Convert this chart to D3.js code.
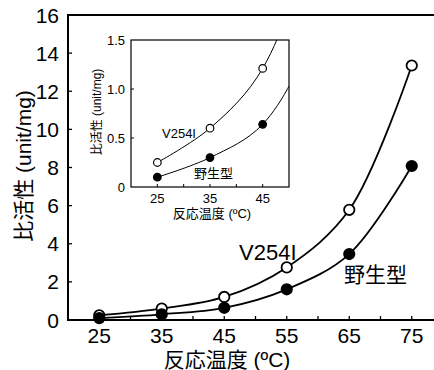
<!DOCTYPE html>
<html>
<head>
<meta charset="utf-8">
<script src="https://cdn.jsdelivr.net/npm/d3@7"></script>
<style>
  body { margin: 0; background: #fff; }
  svg { display: block; font-family: "Liberation Sans", Arial, "Noto Sans CJK JP", sans-serif; }
</style>
</head>
<body>
<svg id="chart" width="434" height="370"></svg>
<script>
// data
const temps = [25, 35, 45, 55, 65, 75];
const mutant = [0.25, 0.6, 1.21, 2.76, 5.78, 13.35];   // V254I (open circles)
const wild = [0.1, 0.3, 0.64, 1.61, 3.46, 8.08];       // 野生型 (filled circles)
const insetTemps = [25, 35, 45];
const mainXTicks = [25, 35, 45, 55, 65, 75];
const mainYTicks = [0, 2, 4, 6, 8, 10, 12, 14, 16];
const insetXTicks = [25, 35, 45];
const insetYTicks = [0, 0.5, 1.0, 1.5];

const svg = d3.select("#chart");

const series = [
    { name: "V254I", values: mutant, fill: "#fff" },
    { name: "野生型", values: wild, fill: "#000" }
];

// ---- main chart ----
const x = d3.scaleLinear().domain([20, 80]).range([68, 443]);
const y = d3.scaleLinear().domain([0, 16]).range([320, 15]);

const line = d3.line()
    .curve(d3.curveCatmullRom.alpha(0.5))
    .x(d => x(d[0]))
    .y(d => y(d[1]));

series.forEach(s => {
    const pts = temps.map((t, i) => [t, s.values[i]]);
    svg.append("path")
        .attr("d", line(pts))
        .attr("fill", "none")
        .attr("stroke", "#000")
        .attr("stroke-width", 1.8);
});

series.forEach(s => {
    svg.selectAll(null)
        .data(temps.map((t, i) => [t, s.values[i]]))
        .join("circle")
        .attr("cx", d => x(d[0]))
        .attr("cy", d => y(d[1]))
        .attr("r", 5.2)
        .attr("fill", s.fill)
        .attr("stroke", "#000")
        .attr("stroke-width", 1.8);
});

// axes frame (left, bottom, top)
svg.append("path")
    .attr("d", `M434,${y(16)}H${x(20)}V${y(0)}H434`)
    .attr("fill", "none")
    .attr("stroke", "#000")
    .attr("stroke-width", 2);

// x ticks every 5, pointing inward
svg.selectAll(null)
    .data(d3.range(25, 80, 5))
    .join("line")
    .attr("x1", d => x(d)).attr("x2", d => x(d))
    .attr("y1", y(0)).attr("y2", y(0) - 4)
    .attr("stroke", "#000").attr("stroke-width", 1.3);

svg.selectAll(null)
    .data(mainYTicks.slice(1, -1))
    .join("line")
    .attr("x1", x(20)).attr("x2", x(20) + 4)
    .attr("y1", d => y(d)).attr("y2", d => y(d))
    .attr("stroke", "#000").attr("stroke-width", 1.3);

svg.selectAll(null)
    .data(mainXTicks)
    .join("text")
    .attr("x", d => x(d))
    .attr("y", 343)
    .attr("text-anchor", "middle")
    .attr("font-size", 21)
    .text(d => d);

svg.selectAll(null)
    .data(mainYTicks)
    .join("text")
    .attr("x", 59)
    .attr("y", d => y(d) + 7.5)
    .attr("text-anchor", "end")
    .attr("font-size", 21)
    .text(d => d);

svg.append("text")
    .attr("transform", "translate(31,166) rotate(-90)")
    .attr("text-anchor", "middle")
    .attr("font-size", 21)
    .text("比活性 (unit/mg)");

svg.append("text")
    .attr("x", 227)
    .attr("y", 367)
    .attr("text-anchor", "middle")
    .attr("font-size", 21)
    .text("反応温度 (ºC)");

svg.append("text")
    .attr("x", 239).attr("y", 260)
    .attr("font-size", 22)
    .text("V254I");

svg.append("text")
    .attr("x", 344).attr("y", 282)
    .attr("font-size", 21)
    .text("野生型");

// ---- inset ----
const ix = d3.scaleLinear().domain([20, 50]).range([131, 289]);
const iy = d3.scaleLinear().domain([0, 1.5]).range([187, 40]);

const inset = svg.append("g");

svg.append("clipPath")
    .attr("id", "inset-clip")
    .append("rect")
    .attr("x", ix(20)).attr("y", iy(1.5))
    .attr("width", ix(50) - ix(20))
    .attr("height", iy(0) - iy(1.5));

const iline = d3.line()
    .curve(d3.curveCatmullRom.alpha(0.5))
    .x(d => ix(d[0]))
    .y(d => iy(d[1]));

series.forEach(s => {
    // draw through the later points too, the frame clips the curve
    const pts = temps.map((t, i) => [t, s.values[i]]);
    inset.append("path")
        .attr("d", iline(pts))
        .attr("clip-path", "url(#inset-clip)")
        .attr("fill", "none")
        .attr("stroke", "#000")
        .attr("stroke-width", 1);
});

series.forEach(s => {
    inset.selectAll(null)
        .data(insetTemps.map((t, i) => [t, s.values[i]]))
        .join("circle")
        .attr("cx", d => ix(d[0]))
        .attr("cy", d => iy(d[1]))
        .attr("r", 3.8)
        .attr("fill", s.fill)
        .attr("stroke", "#000")
        .attr("stroke-width", 1.2);
});

inset.append("rect")
    .attr("x", ix(20)).attr("y", iy(1.5))
    .attr("width", ix(50) - ix(20))
    .attr("height", iy(0) - iy(1.5))
    .attr("fill", "none")
    .attr("stroke", "#000")
    .attr("stroke-width", 1.2);

inset.selectAll(null)
    .data(d3.range(25, 50, 5))
    .join("line")
    .attr("x1", d => ix(d)).attr("x2", d => ix(d))
    .attr("y1", iy(0)).attr("y2", iy(0) - 3)
    .attr("stroke", "#000");

inset.selectAll(null)
    .data(insetYTicks.slice(1, -1))
    .join("line")
    .attr("x1", ix(20)).attr("x2", ix(20) + 3)
    .attr("y1", d => iy(d)).attr("y2", d => iy(d))
    .attr("stroke", "#000");

inset.selectAll(null)
    .data(insetXTicks)
    .join("text")
    .attr("x", d => ix(d))
    .attr("y", 203)
    .attr("text-anchor", "middle")
    .attr("font-size", 13)
    .text(d => d);

inset.selectAll(null)
    .data(insetYTicks)
    .join("text")
    .attr("x", 125)
    .attr("y", d => iy(d) + 4.5)
    .attr("text-anchor", "end")
    .attr("font-size", 13)
    .text(d => d === 0 ? "0" : d3.format(".1f")(d));

inset.append("text")
    .attr("transform", "translate(101,112) rotate(-90)")
    .attr("text-anchor", "middle")
    .attr("font-size", 12)
    .text("比活性 (unit/mg)");

inset.append("text")
    .attr("x", 212).attr("y", 218)
    .attr("text-anchor", "middle")
    .attr("font-size", 13)
    .text("反応温度 (ºC)");

inset.append("text")
    .attr("x", 162).attr("y", 138)
    .attr("font-size", 13)
    .text("V254I");

inset.append("text")
    .attr("x", 194).attr("y", 178)
    .attr("font-size", 13)
    .text("野生型");
</script>
</body>
</html>
